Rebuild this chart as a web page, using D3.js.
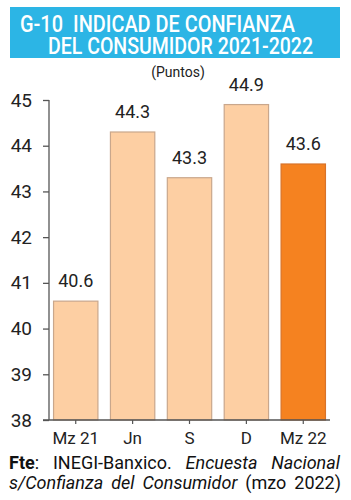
<!DOCTYPE html>
<html><head><meta charset="utf-8">
<script src="https://cdn.jsdelivr.net/npm/d3@7"></script>
<style>html,body{margin:0;padding:0;background:#fff;}svg{display:block;}</style>
</head><body>
<svg id="c" width="351" height="500"></svg>
<script>
const categories = ["Mz 21", "Jn", "S", "D", "Mz 22"];
const values = [40.6, 44.3, 43.3, 44.9, 43.6];
const valueLabels = ["40.6", "44.3", "43.3", "44.9", "43.6"];
const yTicks = [38, 39, 40, 41, 42, 43, 44, 45];
const highlight = [false, false, false, false, true];

const svg = d3.select("#c");
const bodyFont = "Roboto, 'Liberation Sans', sans-serif";
const titleFont = "Roboto, 'Liberation Sans Narrow', sans-serif";

// Title box
svg.append("rect").attr("x", 10).attr("y", 7).attr("width", 330).attr("height", 51).attr("fill", "#2cb5e5");
const titleParts = [
  {t: "G-10", x: 20, y: 32, w: 43},
  {t: "INDICAD DE CONFIANZA", x: 73, y: 32, w: 222},
  {t: "DEL CONSUMIDOR 2021-2022", x: 48, y: 54, w: 265}
];
svg.append("g").selectAll("text").data(titleParts).join("text")
  .attr("x", d => d.x).attr("y", d => d.y).attr("fill", "#fff")
  .style("font-family", titleFont).style("font-weight", "500").style("font-size", "23px")
  .attr("textLength", d => d.w).attr("lengthAdjust", "spacingAndGlyphs").text(d => d.t);

svg.append("text").attr("x", 178).attr("y", 77).attr("text-anchor", "middle")
  .style("font-family", bodyFont).style("font-size", "14px").attr("fill", "#222").text("(Puntos)");

const y = d3.scaleLinear().domain([38, 45]).range([420, 100]);
const x = d3.scaleBand().domain(categories).range([49, 330]).paddingInner(0.22).paddingOuter(0.08);

// Bars
svg.append("g").selectAll("rect").data(values).join("rect")
  .attr("x", (d, i) => x(categories[i]))
  .attr("width", x.bandwidth())
  .attr("y", d => y(d))
  .attr("height", d => y(38) - y(d))
  .attr("fill", (d, i) => highlight[i] ? "#f58220" : "#fdcfa3")
  .attr("stroke", (d, i) => highlight[i] ? "#d8732a" : "#c9a78c")
  .attr("stroke-width", 1.2);

// Value labels
svg.append("g").selectAll("text").data(values).join("text")
  .attr("x", (d, i) => x(categories[i]) + x.bandwidth() / 2)
  .attr("y", d => y(d) - 14)
  .attr("text-anchor", "middle")
  .style("font-family", bodyFont).style("font-size", "18px").attr("fill", "#222")
  .text((d, i) => valueLabels[i]);

// Y axis
const yAxis = svg.append("g").attr("transform", "translate(49,0)")
  .call(d3.axisLeft(y).tickValues(yTicks).tickFormat(d3.format("d")).tickSize(6).tickPadding(11));
yAxis.select(".domain").attr("stroke", "#555").attr("stroke-width", 1.3).attr("d", "M0,100V420");
yAxis.selectAll(".tick line").attr("stroke", "#555").attr("stroke-width", 1.3);
yAxis.selectAll(".tick text").style("font-family", bodyFont).style("font-size", "19px").attr("fill", "#222");

// X axis
const xAxis = svg.append("g").attr("transform", "translate(0,420)")
  .call(d3.axisBottom(x).tickSize(0).tickPadding(12));
xAxis.select(".domain").attr("stroke", "#555").attr("stroke-width", 1.3).attr("d", "M43,0H330");
xAxis.selectAll(".tick text").style("font-family", bodyFont).style("font-size", "17px").attr("fill", "#222");
xAxis.selectAll(".tick").append("line").attr("y2", 4).attr("stroke", "#555").attr("stroke-width", 1.2);

// Footer (justified)
function justifyLine(yPos, segs, x0, x1) {
  const g = svg.append("g");
  const nodes = segs.map(s => g.append("text").attr("y", yPos)
    .style("font-family", bodyFont).style("font-size", "18px")
    .style("font-weight", s.bold ? "bold" : "normal")
    .style("font-style", s.italic ? "italic" : "normal")
    .attr("fill", "#111").text(s.t));
  const widths = nodes.map(n => n.node().getComputedTextLength());
  const total = widths.reduce((a, b) => a + b, 0);
  const gaps = segs.filter(s => s.gap).length;
  const gapW = gaps ? (x1 - x0 - total) / gaps : 0;
  let cx = x0;
  nodes.forEach((n, i) => {
    n.attr("x", cx);
    cx += widths[i];
    if (i + 1 < segs.length && segs[i + 1].gap) cx += gapW;
  });
}
justifyLine(469, [
  {t: "Fte", bold: true}, {t: ":"}, {t: "INEGI-Banxico.", gap: true},
  {t: "Encuesta", italic: true, gap: true}, {t: "Nacional", italic: true, gap: true}
], 9, 340);
justifyLine(489, [
  {t: "s/Confianza", italic: true}, {t: "del", italic: true, gap: true},
  {t: "Consumidor", italic: true, gap: true}, {t: "(mzo", gap: true}, {t: "2022)", gap: true}
], 9, 341);
</script>
</body></html>
